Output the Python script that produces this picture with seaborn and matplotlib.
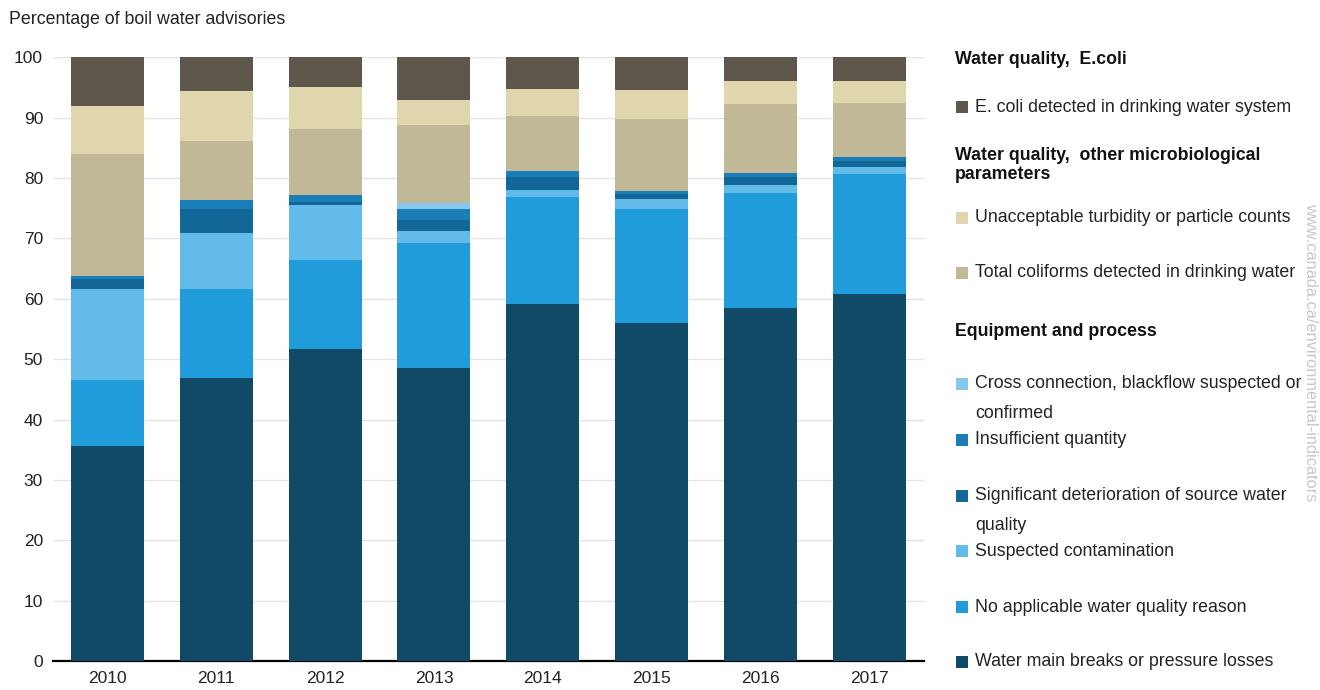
import matplotlib
matplotlib.use("Agg")
import matplotlib.pyplot as plt
import seaborn as sns
import numpy as np
from matplotlib.patches import Rectangle

# Data (percent of boil water advisories, by reason)
years = ["2010", "2011", "2012", "2013", "2014", "2015", "2016", "2017"]

water_main = [35.6, 46.8, 51.7, 48.5, 59.2, 56.0, 58.5, 60.8]
no_applicable = [10.9, 14.8, 14.8, 20.7, 17.7, 18.8, 19.1, 19.9]
suspected = [15.2, 9.3, 9.1, 2.0, 1.1, 1.8, 1.2, 1.1]
significant = [1.5, 4.0, 0.5, 1.9, 2.2, 0.8, 1.4, 1.0]
insufficient = [0.6, 1.5, 1.1, 1.7, 0.9, 0.5, 0.6, 0.6]
cross_connection = [0.0, 0.0, 0.0, 1.1, 0.0, 0.0, 0.0, 0.0]
total_coliforms = [20.1, 9.8, 11.0, 12.8, 9.1, 11.8, 11.4, 9.1]
turbidity = [8.0, 8.2, 6.9, 4.3, 4.55, 4.9, 3.9, 3.6]
ecoli = [8.1, 5.6, 4.9, 7.0, 5.25, 5.4, 3.9, 3.9]

# bottom -> top stacking order
layers = [
    (water_main, "#114a66"),
    (no_applicable, "#219cdb"),
    (suspected, "#62bbe8"),
    (significant, "#136796"),
    (insufficient, "#1a7db8"),
    (cross_connection, "#86c9ee"),
    (total_coliforms, "#c1b897"),
    (turbidity, "#e0d6ae"),
    (ecoli, "#5e574b"),
]

sns.set_style("white")
plt.rcParams["font.family"] = ["Liberation Sans", "DejaVu Sans"]

fig = plt.figure(figsize=(13.2, 6.9), dpi=100)
ax = fig.add_axes([0.040, 0.042, 0.660, 0.875])

# Stacked bars
bottom = np.zeros(len(years))
for values, color in layers:
    sns.barplot(x=years, y=values, bottom=bottom, color=color, width=0.67,
                saturation=1, errorbar=None, linewidth=0, ax=ax, zorder=3)
    bottom = bottom + np.array(values)

ax.set_ylim(0, 100)
ax.set_xlim(-0.5, len(years) - 0.5)
ax.set_yticks(range(0, 101, 10))
ax.yaxis.grid(True, color="#e4e4e4", linewidth=1, zorder=0)
ax.set_axisbelow(True)
for side in ["left", "right", "top"]:
    ax.spines[side].set_visible(False)
ax.spines["bottom"].set_color("black")
ax.spines["bottom"].set_linewidth(1.6)
ax.tick_params(axis="both", length=0, labelsize=12.5, colors="#222222", pad=7)
ax.set_xlabel("")
ax.set_ylabel("")

fig.text(0.007, 0.972, "Percentage of boil water advisories", fontsize=12.8,
         color="#222222", va="center")

# Legend drawn as grouped text blocks
H = 690.0
FS = 12.8
def fy(py):
    return 1 - py / H

headers = [
    (60, "Water quality,  E.coli"),
    (165, "Water quality,  other microbiological\nparameters"),
    (331, "Equipment and process"),
]
for py, txt in headers:
    fig.text(955 / 1320, fy(py), txt, fontsize=FS, fontweight="bold",
             color="#111111", va="center", linespacing=1.1)

items = [
    (107, "E. coli detected in drinking water system", "#5e574b"),
    (218, "Unacceptable turbidity or particle counts", "#e0d6ae"),
    (273, "Total coliforms detected in drinking water", "#c1b897"),
    (384, "Cross connection, blackflow suspected or", "#86c9ee"),
    (440, "Insufficient quantity", "#1a7db8"),
    (496, "Significant deterioration of source water", "#136796"),
    (551, "Suspected contamination", "#62bbe8"),
    (607, "No applicable water quality reason", "#219cdb"),
    (662, "Water main breaks or pressure losses", "#114a66"),
]
for py, txt, color in items:
    fig.patches.append(Rectangle((956 / 1320, fy(py + 6)), 12 / 1320, 12 / H,
                                 transform=fig.transFigure, facecolor=color,
                                 edgecolor="none"))
    fig.text(975 / 1320, fy(py), txt, fontsize=FS, color="#222222", va="center")

fig.text(975 / 1320, fy(414), "confirmed", fontsize=FS, color="#222222", va="center")
fig.text(975 / 1320, fy(526), "quality", fontsize=FS, color="#222222", va="center")

# Watermark
fig.text(1311 / 1320, fy(352), "www.canada.ca/environmental-indicators", fontsize=11.8,
         color="#c8c8c8", rotation=-90, ha="center", va="center")

fig.savefig("out.png", dpi=100)
